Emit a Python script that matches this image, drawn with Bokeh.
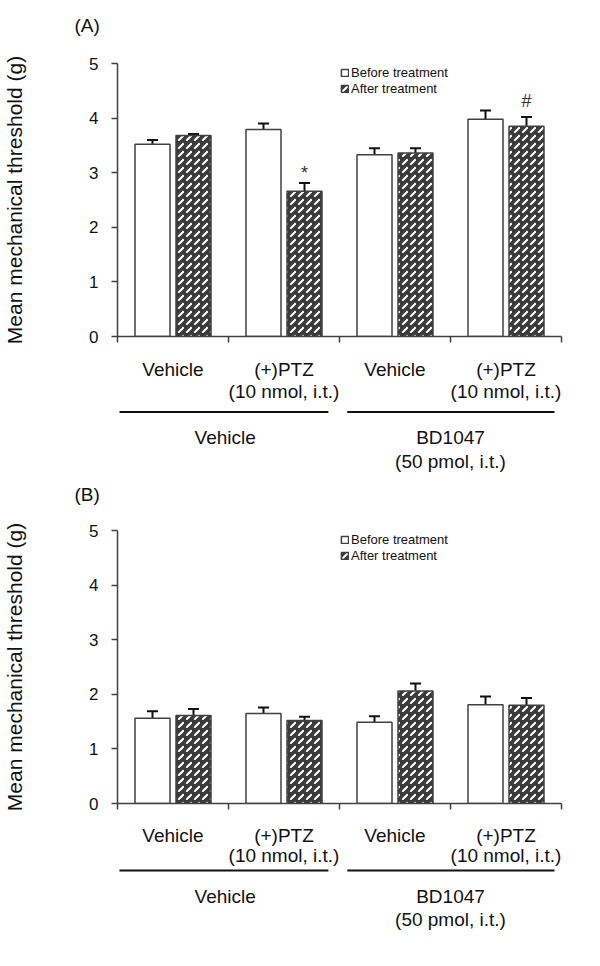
from bokeh.plotting import figure
from bokeh.models import (Range1d, FixedTicker, Whisker, TeeHead,
                          ColumnDataSource, Legend, LegendItem)
from bokeh.core.properties import value
from bokeh.layouts import column
from bokeh.embed import file_html
from bokeh.resources import INLINE

# ---------------- data ----------------
treatments = ["Vehicle", "(+)PTZ", "Vehicle", "(+)PTZ"]
treatment_doses = ["", "(10 nmol, i.t.)", "", "(10 nmol, i.t.)"]
pretreatments = ["Vehicle", "BD1047"]
pretreatment_doses = ["", "(50 pmol, i.t.)"]
series_names = ["Before treatment", "After treatment"]
y_ticks = [0, 1, 2, 3, 4, 5]
y_label = "Mean mechanical threshold (g)"

a_before = [3.52, 3.79, 3.33, 3.98]
a_before_sem = [0.08, 0.11, 0.12, 0.16]
a_after = [3.68, 2.66, 3.36, 3.85]
a_after_sem = [0.03, 0.15, 0.09, 0.17]
a_marks = ["", "*", "", "#"]

b_before = [1.56, 1.65, 1.49, 1.81]
b_before_sem = [0.13, 0.11, 0.11, 0.15]
b_after = [1.61, 1.52, 2.06, 1.80]
b_after_sem = [0.12, 0.07, 0.14, 0.13]
b_marks = ["", "", "", ""]

# ---------------- style ----------------
FONT = "Liberation Sans"
INK = "#111111"
AX = "#404040"
DARK = "#3a3a3a"
FW = 444
FH = 273
LEFT = 115
TOP = 10      # top border of the bar figure
BOT = 20      # bottom border of the bar figure (holds the x axis ticks)
RIGHT = 24


def blank(fig):
    fig.outline_line_color = None
    fig.grid.visible = False


def panel(tag, before, bsem, after, asem, marks, head_border, head_frame, lab_h, rows,
          standoff):
    # ---- header strip carrying the panel tag as its title ----
    h = figure(frame_width=FW, frame_height=head_frame, x_range=Range1d(0, 4),
               y_range=Range1d(0, 1), output_backend="svg",
               toolbar_location=None, x_axis_type=None, y_axis_type=None,
               min_border_left=LEFT, min_border_right=RIGHT,
               min_border_top=head_border, min_border_bottom=0, title=tag)
    blank(h)
    h.title.align = "left"
    h.title.offset = -(LEFT - 72)
    h.title.standoff = 0
    h.title.text_font = FONT
    h.title.text_font_size = "19px"
    h.title.text_font_style = "normal"
    h.title.text_color = INK

    # ---- bar chart ----
    p = figure(frame_width=FW, frame_height=FH, x_range=Range1d(0, 4),
               y_range=Range1d(0, 5), output_backend="svg", toolbar_location=None,
               min_border_left=LEFT, min_border_top=TOP, min_border_bottom=BOT,
               min_border_right=RIGHT)
    blank(p)

    upx = FH / 5.0          # pixels per y unit
    xpx = FW / 4.0          # pixels per category

    n = len(treatments)
    half = 20.5 / xpx
    bw = 35.0 / xpx
    xb = [i + 0.5 - half for i in range(n)]
    xa = [i + 0.5 + half for i in range(n)]
    src = ColumnDataSource(dict(
        xb=xb, xa=xa, before=before, after=after,
        bu=[v + e for v, e in zip(before, bsem)],
        au=[v + e for v, e in zip(after, asem)],
    ))

    for base, lo, hi in (("xb", "before", "bu"), ("xa", "after", "au")):
        w = Whisker(base=base, lower=lo, upper=hi, source=src, dimension="height",
                    lower_head=None,
                    upper_head=TeeHead(size=11, line_width=2, line_color=INK),
                    line_width=2, line_color=INK)
        p.add_layout(w)

    r1 = p.vbar(x="xb", top="before", width=bw, source=src, fill_color="white",
                line_color=AX, line_width=1.5)
    r2 = p.vbar(x="xa", top="after", width=bw, source=src, fill_color=DARK,
                line_color=AX, line_width=1.5, hatch_pattern="right_diagonal_dash",
                hatch_color="white", hatch_scale=8, hatch_weight=2)

    # significance marks
    gaps = {"*": 10.0, "#": 16.0}
    mx, my, mt = [], [], []
    for i, m in enumerate(marks):
        if m:
            mx.append(xa[i])
            my.append(after[i] + asem[i] + gaps.get(m, 8.0) / upx)
            mt.append(m)
    if mt:
        p.text(x=mx, y=my, text=mt, text_align="center", text_baseline="alphabetic",
               text_font=value(FONT), text_font_size="18px", text_color="#333333")

    # axes
    yax = p.yaxis[0]
    yax.ticker = FixedTicker(ticks=y_ticks)
    yax.minor_tick_line_color = None
    yax.major_tick_out = 6
    yax.major_tick_in = 0
    yax.axis_line_color = AX
    yax.axis_line_width = 1.5
    yax.major_tick_line_color = AX
    yax.major_tick_line_width = 1.5
    yax.major_label_text_font = FONT
    yax.major_label_text_font_size = "17px"
    yax.major_label_text_color = INK
    yax.major_label_standoff = 13
    yax.axis_label = y_label
    yax.axis_label_text_font = FONT
    yax.axis_label_text_font_size = "21px"
    yax.axis_label_text_font_style = "normal"
    yax.axis_label_text_color = INK
    yax.axis_label_standoff = standoff

    xax = p.xaxis[0]
    xax.ticker = FixedTicker(ticks=list(range(n + 1)))
    xax.major_label_overrides = {i: "" for i in range(n + 1)}
    xax.major_label_text_font_size = "0px"
    xax.major_label_standoff = 0
    xax.minor_tick_line_color = None
    xax.major_tick_out = 6
    xax.major_tick_in = 0
    xax.axis_line_color = AX
    xax.axis_line_width = 1.5
    xax.major_tick_line_color = AX
    xax.major_tick_line_width = 1.5

    legend = Legend(items=[LegendItem(label=series_names[0], renderers=[r1]),
                           LegendItem(label=series_names[1], renderers=[r2])],
                    location=(223, FH - 1 - 32), orientation="vertical")
    legend.border_line_color = None
    legend.background_fill_alpha = 0
    legend.padding = 0
    legend.margin = 0
    legend.spacing = 0
    legend.glyph_width = 9
    legend.glyph_height = 9
    legend.label_height = 16
    legend.label_standoff = 2
    legend.label_text_font = FONT
    legend.label_text_font_size = "13px"
    legend.label_text_color = INK
    p.add_layout(legend, "center")

    # ---- label strip: y measured in pixels below the x axis (negative) ----
    q = figure(frame_width=FW, frame_height=lab_h, x_range=p.x_range,
               y_range=Range1d(-(BOT + lab_h), -BOT), output_backend="svg",
               toolbar_location=None, x_axis_type=None, y_axis_type=None,
               min_border_left=LEFT, min_border_right=RIGHT, min_border_top=0,
               min_border_bottom=0)
    blank(q)

    r_name, r_dose, r_line, r_group, r_gdose = rows
    tx, ty, tt = [], [], []
    for i in range(n):
        tx.append(i + 0.5); ty.append(-r_name); tt.append(treatments[i])
        if treatment_doses[i]:
            tx.append(i + 0.5); ty.append(-r_dose); tt.append(treatment_doses[i])

    spans = [(2 / xpx, 1.9), (2.07, 4 - 7 / xpx)]
    centers = [0.97, 3.0]
    sx0, sx1, sy = [], [], []
    for g in range(len(pretreatments)):
        x0, x1 = spans[g]
        sx0.append(x0); sx1.append(x1); sy.append(-r_line)
        tx.append(centers[g]); ty.append(-r_group); tt.append(pretreatments[g])
        if pretreatment_doses[g]:
            tx.append(centers[g]); ty.append(-r_gdose); tt.append(pretreatment_doses[g])

    q.segment(x0=sx0, y0=sy, x1=sx1, y1=sy, line_width=2, line_color=INK)
    q.text(x=tx, y=ty, text=tt, text_align="center", text_baseline="alphabetic",
           text_font=value(FONT), text_font_size="19px", text_color=INK)
    return column(h, p, q, spacing=0)


pa = panel("(A)", a_before, a_before_sem, a_after, a_after_sem, a_marks,
           head_border=35, head_frame=18, lab_h=116,
           rows=(33, 54.5, 75.5, 100.5, 125), standoff=60)
pb = panel("(B)", b_before, b_before_sem, b_after, b_after_sem, b_marks,
           head_border=32, head_frame=16, lab_h=122,
           rows=(32, 52, 67, 92.5, 116), standoff=60)

layout = column(pa, pb, spacing=0)
open("out.html", "w").write(file_html(layout, INLINE))
